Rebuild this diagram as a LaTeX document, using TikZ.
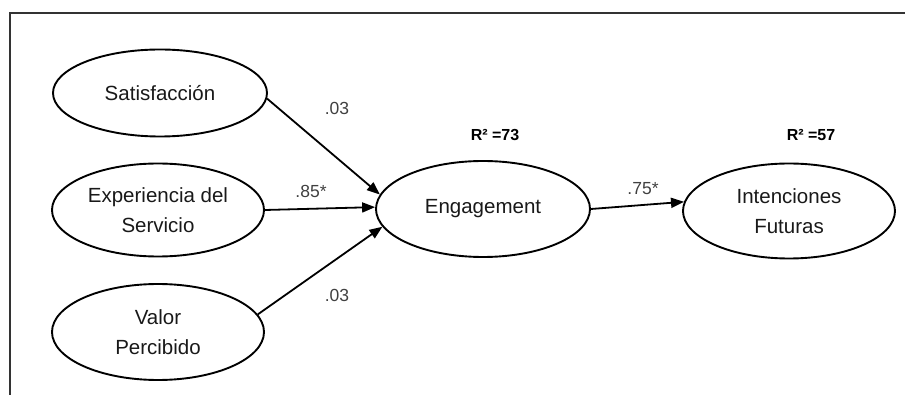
\documentclass[tikz,border=0pt]{standalone}
\usepackage{fontspec}
\setmainfont{Liberation Sans}
\usetikzlibrary{shapes.geometric,arrows.meta}
\tikzset{
  construct/.style={ellipse, draw=black, line width=1.9pt, inner sep=0pt,
    align=center, font=\fontsize{20.5}{30}\selectfont, text=black!90},
  path/.style={line width=1.8pt, draw=black, -{Triangle[length=13pt,width=10pt]}},
  coef/.style={font=\fontsize{17.5}{20}\selectfont, text=black!75},
  rsq/.style={font=\bfseries\fontsize{16}{18}\selectfont, text=black}
}
\begin{document}
\begin{tikzpicture}[x=1pt,y=-1pt]
\useasboundingbox (0,0) rectangle (905,395);
% frame
\draw[line width=2.6pt, black!80, line cap=rect] (10,395) -- (10,13) -- (905,13);
% constructs
\node[construct, minimum width=214pt, minimum height=87pt] (sat) at (160,93) {Satisfacción};
\node[construct, minimum width=212pt, minimum height=93pt] (exp) at (158,210) {Experiencia del\\Servicio};
\node[construct, minimum width=212pt, minimum height=96pt] (val) at (158,332) {Valor\\Percibido};
\node[construct, minimum width=214pt, minimum height=96pt] (eng) at (483,209) {Engagement};
\node[construct, minimum width=212pt, minimum height=95pt] (int) at (789,211) {Intenciones\\Futuras};
% paths
\draw[path] (sat.-3) -- (eng.172);
\draw[path] (exp.east) -- (eng.179);
\draw[path] (val.10) -- (eng.190);
\draw[path] (eng.east) -- (int.175);
% coefficients
\node[coef] (c1) at (337,108) {.03};
\node[coef] (c2) at (311,191) {.85*};
\node[coef] (c3) at (337,295) {.03};
\node[coef] (c4) at (643,189) {.75*};
% R squared
\node[rsq] (r1) at (495,135) {R² =73};
\node[rsq] (r2) at (811,135) {R² =57};
\end{tikzpicture}
\end{document}
